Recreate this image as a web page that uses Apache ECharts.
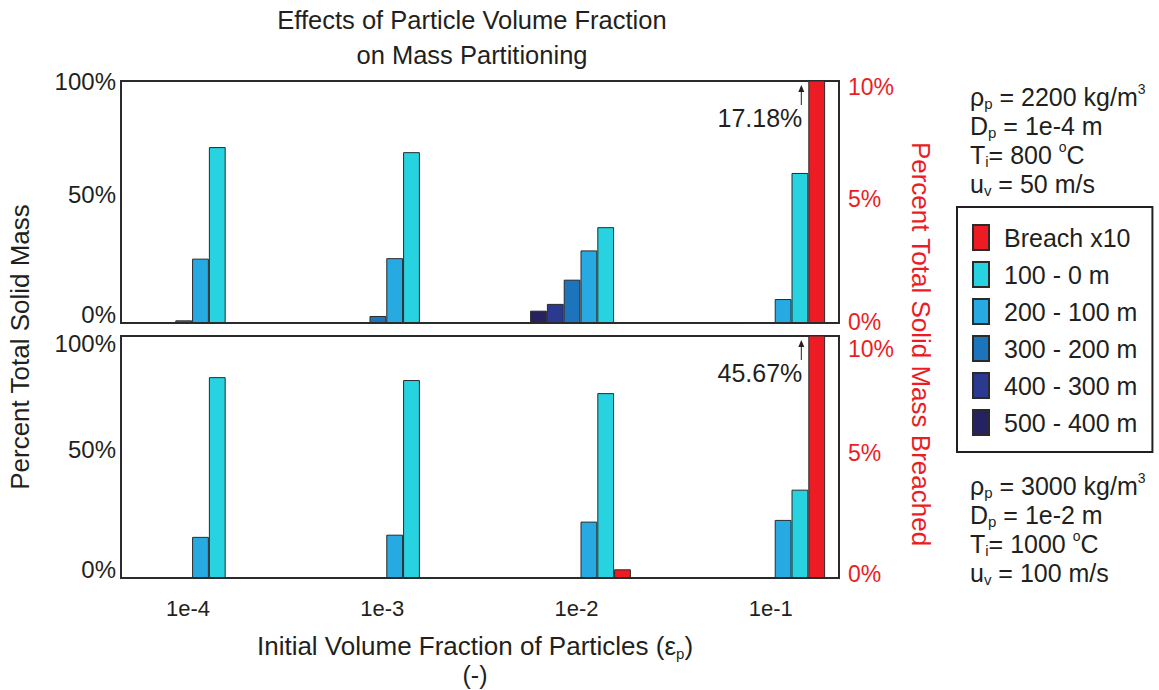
<!DOCTYPE html>
<html><head><meta charset="utf-8">
<script src="https://cdn.jsdelivr.net/npm/echarts@6/dist/echarts.min.js"></script>
<style>html,body{margin:0;padding:0;background:#fff}#c{width:1159px;height:690px}</style>
</head><body><div id="c"></div>
<script>
// ---------- data ----------
const categories = ['1e-4', '1e-3', '1e-2', '1e-1'];
const seriesNames = ['500 - 400 m', '400 - 300 m', '300 - 200 m', '200 - 100 m', '100 - 0 m', 'Breach x10'];
const legendOrder = ['Breach x10', '100 - 0 m', '200 - 100 m', '300 - 200 m', '400 - 300 m', '500 - 400 m'];

// top panel (rho_p = 2200, D_p = 1e-4 m ...), percent of total solid mass
const top500_400 = [null, null, 5.1, 0.3];
const top400_300 = [null, null, 7.9, null];
const top300_200 = [1.1, 2.9, 17.9, null];
const top200_100 = [26.6, 26.8, 30.0, 9.9];
const top100_0   = [72.7, 70.6, 39.6, 62.0];
const topBreach  = [null, null, null, 17.18];   // right axis (percent breached)

// bottom panel (rho_p = 3000, D_p = 1e-2 m ...)
const bot500_400 = [null, null, null, 0.3];
const bot400_300 = [null, null, null, 0.3];
const bot300_200 = [null, null, null, 0.3];
const bot200_100 = [17.0, 17.9, 23.3, 24.0];
const bot100_0   = [83.0, 81.8, 76.4, 36.5];
const botBreach  = [null, null, 0.36, 45.67];

const leftTicks = [0, 50, 100];
const rightTicks = [0, 5, 10];

// ---------- style ----------
const FONT = "'Liberation Sans', Arial, Helvetica, sans-serif";
const INK = '#231F20';
const RED = '#ED1C24';
const colors = ['#262262', '#2B3990', '#1C75BC', '#27AAE1', '#27D3E0', RED];
const BAR_W = 16.8;

const panels = [
  [top500_400, top400_300, top300_200, top200_100, top100_0, topBreach],
  [bot500_400, bot400_300, bot300_200, bot200_100, bot100_0, botBreach]
];
const leftShift = [{0: -8.5, 50: -8, 100: 0}, {0: -9, 50: -8, 100: 7}];
const rightShift = [{0: -1, 5: -3, 10: 6}, {0: -4, 5: -4, 10: 13}];

function shiftedLabels(shifts, suffix, size) {
  const rich = {};
  Object.keys(shifts).forEach(k => {
    const s = shifts[k];
    rich['t' + k] = {
      fontSize: size, fontFamily: FONT,
      padding: s < 0 ? [0, 0, -2 * s, 0] : [2 * s, 0, 0, 0]
    };
  });
  return { rich, formatter: v => '{t' + v + '|' + v + suffix + '}' };
}

const grids = [
  { left: 121, top: 81, width: 718, height: 242 },
  { left: 121, top: 336, width: 718, height: 242 }
].map(g => Object.assign(g, { show: true, borderColor: '#2b2b2b', borderWidth: 2, backgroundColor: 'transparent' }));

const xAxes = [0, 1].map(i => ({
  gridIndex: i, type: 'value', min: 0.634, max: 4.331,
  axisLine: { show: false }, axisTick: { show: false }, splitLine: { show: false },
  axisLabel: i === 1 ? {
    show: true, customValues: [1, 2, 3, 4],
    formatter: v => categories[Math.round(v) - 1],
    fontSize: 22, fontFamily: FONT, color: INK, margin: 19, padding: [0, 8, 0, 0]
  } : { show: false }
}));

const yAxes = [];
[0, 1].forEach(p => {
  const l = shiftedLabels(leftShift[p], '%', 24);
  yAxes.push({
    gridIndex: p, type: 'value', position: 'left', min: 0, max: 100, interval: 50,
    axisLine: { show: false }, axisTick: { show: false }, splitLine: { show: false },
    axisLabel: { color: INK, fontSize: 24, fontFamily: FONT, margin: 5, showMinLabel: true, showMaxLabel: true,
      formatter: l.formatter, rich: l.rich }
  });
  const r = shiftedLabels(rightShift[p], '%', 23);
  Object.keys(r.rich).forEach(k => r.rich[k].color = RED);
  yAxes.push({
    gridIndex: p, type: 'value', position: 'right', min: 0, max: 10, interval: 5,
    axisLine: { show: false }, axisTick: { show: false }, splitLine: { show: false },
    axisLabel: { color: RED, fontSize: 23, fontFamily: FONT, margin: 9, showMinLabel: true, showMaxLabel: true,
      formatter: r.formatter, rich: r.rich }
  });
});

const series = [];
panels.forEach((arrs, p) => {
  arrs.forEach((arr, k) => {
    const isBreach = k === 5;
    const yMax = isBreach ? 10 : 100;
    series.push({
      type: 'bar', name: seriesNames[k], xAxisIndex: p, yAxisIndex: p * 2 + (isBreach ? 1 : 0),
      barWidth: BAR_W, barGap: '0%',
      itemStyle: { color: colors[k], borderColor: '#2a2a2a', borderWidth: 1 },
      emphasis: { disabled: true },
      data: arr.map((v, i) => {
        if (v == null) return [i + 1, '-'];
        if (v > yMax) {
          return {
            value: [i + 1, v],
            label: {
              show: true, position: [-6, 37], align: 'right', verticalAlign: 'middle',
              formatter: q => q.value[1] + '%', fontSize: 25, fontFamily: FONT, color: INK
            }
          };
        }
        return [i + 1, v];
      })
    });
  });
});

const subStyle = { fontSize: 15, fontFamily: FONT, fill: INK, verticalAlign: 'bottom', lineHeight: 12 };
const supStyle = { fontSize: 14, fontFamily: FONT, fill: INK, verticalAlign: 'top' };
const mStyle = { fontSize: 25, fontFamily: FONT, fill: INK, lineHeight: 29 };

function paramBlock(y, rho, dp, ti, uv) {
  return {
    type: 'text', x: 970, y: y, silent: true,
    style: {
      text: '{m|ρ}{s|p}{m| = ' + rho + ' kg/m}{u|3}\n' +
            '{m|D}{s|p}{m| = ' + dp + ' m}\n' +
            '{m|T}{s|i}{m|= ' + ti + ' }{u|o}{m|C}\n' +
            '{m|u}{s|v}{m| = ' + uv + ' m/s}',
      rich: { m: mStyle, s: subStyle, u: supStyle },
      align: 'left', verticalAlign: 'top', fill: INK
    }
  };
}

const graphics = [
  { type: 'text', x: 472, y: 37, silent: true,
    style: { text: 'Effects of Particle Volume Fraction\non Mass Partitioning', fontSize: 25.5, fontFamily: FONT,
      lineHeight: 35, fill: INK, align: 'center', verticalAlign: 'middle' } },
  { type: 'text', x: 475, y: 646, silent: true,
    style: { text: '{m|Initial Volume Fraction of Particles (ε}{s|p}{m|)}', align: 'center', verticalAlign: 'middle',
      rich: { m: { fontSize: 26, fontFamily: FONT, fill: INK, lineHeight: 30 }, s: subStyle } } },
  { type: 'text', x: 475, y: 675, silent: true,
    style: { text: '(-)', fontSize: 25, fontFamily: FONT, fill: INK, align: 'center', verticalAlign: 'middle' } },
  { type: 'text', x: 20, y: 347, rotation: Math.PI / 2, silent: true,
    style: { text: 'Percent Total Solid Mass', fontSize: 26, fontFamily: FONT, fill: INK, align: 'center', verticalAlign: 'middle' } },
  { type: 'text', x: 921, y: 344, rotation: -Math.PI / 2, silent: true,
    style: { text: 'Percent Total Solid Mass Breached', fontSize: 26, fontFamily: FONT, fill: RED, align: 'center', verticalAlign: 'middle' } },
  paramBlock(82, '2200', '1e-4', '800', '50'),
  paramBlock(471, '3000', '1e-2', '1000', '100')
];

const option = {
  animation: false,
  backgroundColor: '#ffffff',
  textStyle: { fontFamily: FONT },
  grid: grids,
  xAxis: xAxes,
  yAxis: yAxes,
  legend: {
    data: legendOrder, orient: 'vertical', left: 957, top: 207,
    itemWidth: 16, itemHeight: 25, itemGap: 10, icon: 'rect',
    padding: [17, 15, 16, 15], borderColor: INK, borderWidth: 2, borderRadius: 0,
    selectedMode: false,
    textStyle: { fontSize: 25, lineHeight: 25, fontFamily: FONT, color: INK, padding: [0, 0, 0, 10] }
  },
  series: series,
  graphic: graphics
};

const chart = echarts.init(document.getElementById('c'), null, { renderer: 'svg' });
chart.setOption(option);

// arrows above the clipped breach bars, anchored to the axes
[0, 1].forEach(p => {
  const breach = panels[p][5];
  breach.forEach((v, i) => {
    if (v != null && v > 10) {
      const pt = chart.convertToPixel({ xAxisIndex: p, yAxisIndex: p * 2 + 1 }, [i + 1, 10]);
      const ax = pt[0] + 2 * BAR_W - 7;
      const y0 = pt[1] + 4, y1 = pt[1] + 24;
      graphics.push({ type: 'line', silent: true, shape: { x1: ax, y1: y0 + 5, x2: ax, y2: y1 }, style: { stroke: INK, lineWidth: 1 } });
      graphics.push({ type: 'polygon', silent: true, shape: { points: [[ax, y0], [ax - 3, y0 + 7], [ax + 3, y0 + 7]] }, style: { fill: INK } });
    }
  });
});
option.graphic = graphics;
chart.setOption(option, true);
</script>
</body></html>
